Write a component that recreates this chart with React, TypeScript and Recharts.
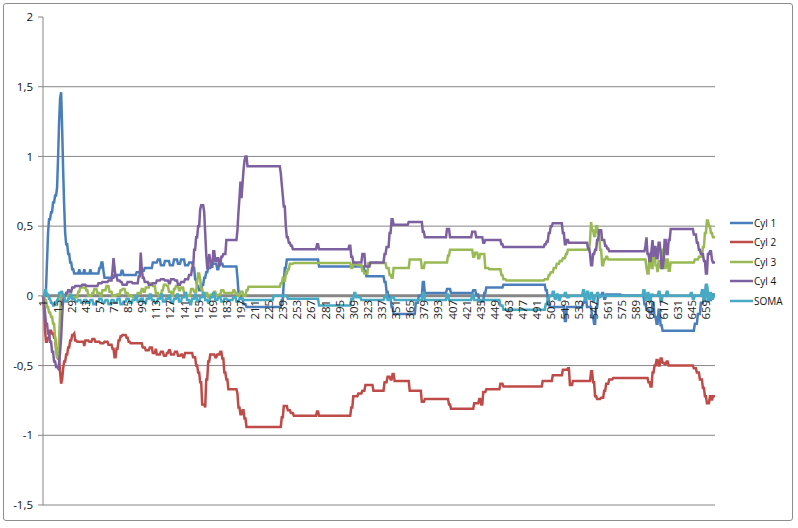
import React from 'react';
import { LineChart, Line, XAxis, YAxis, CartesianGrid, ReferenceLine, Legend } from 'recharts';

// number of categories on the x axis (1..N)
const N = 668;
const categories: number[] = Array.from({ length: N }, (_, i) => i + 1);
const yTicks = [-1.5, -1, -0.5, 0, 0.5, 1, 1.5, 2];
const gridValues = [-1.5, -1, -0.5, 0, 0.5, 1, 1.5];

// step data: [first category index, value] — value holds until the next entry
const cyl1Steps: [number, number][] = [
  [1,0],[4,0.05],[5,0.25],[6,0.45],[7,0.55],[9,0.6],[11,0.67],[13,0.72],[15,0.78],[16,1.0],[17,1.25],[18,1.42],[19,1.46],[20,1.2],[21,0.9],[22,0.65],[23,0.45],[24,0.37],[26,0.3],[28,0.24],[30,0.19],[32,0.16],[37,0.19],[38,0.16],[42,0.19],[43,0.16],[48,0.19],[49,0.16],[57,0.2],[59,0.24],[61,0.18],[62,0.13],[72,0.15],[79,0.18],[81,0.15],[94,0.17],[98,0.18],[102,0.2],[110,0.24],[115,0.26],[118,0.22],[122,0.25],[127,0.22],[131,0.26],[135,0.23],[138,0.26],[142,0.22],[146,0.24],[150,0.2],[152,0.12],[154,0.07],[156,0.04],[159,0.08],[161,0.13],[163,0.17],[165,0.2],[168,0.23],[174,0.19],[176,0.23],[180,0.21],[194,0.13],[195,0.03],[197,-0.02],[200,-0.06],[203,-0.08],[238,-0.03],[240,0.1],[241,0.2],[243,0.26],[275,0.21],[320,0.18],[322,0.14],[340,0.1],[342,0.03],[344,-0.01],[347,-0.08],[349,-0.13],[371,-0.05],[374,0],[378,0.1],[380,0.02],[402,0.05],[406,0.02],[428,0.04],[431,0.01],[434,-0.04],[439,0.02],[441,0.06],[458,0.08],[500,0.04],[502,-0.02],[504,-0.08],[519,-0.18],[521,-0.08],[537,-0.05],[539,-0.02],[541,-0.08],[546,-0.15],[548,-0.2],[550,-0.08],[552,0],[556,0.02],[558,-0.02],[560,0.01],[575,0],[598,-0.06],[600,-0.1],[603,-0.12],[606,-0.05],[608,-0.15],[610,-0.2],[612,-0.1],[614,-0.21],[616,-0.25],[648,-0.2],[651,-0.13],[654,-0.05],[657,0],[659,0.07],[661,0.01],[663,-0.03],[665,0.01],
];

const cyl2Steps: [number, number][] = [
  [1,0],[2,-0.1],[3,-0.25],[4,-0.33],[6,-0.3],[8,-0.25],[10,-0.27],[12,-0.3],[14,-0.38],[16,-0.45],[18,-0.55],[19,-0.63],[20,-0.6],[21,-0.52],[22,-0.47],[24,-0.42],[26,-0.37],[28,-0.32],[30,-0.28],[32,-0.27],[33,-0.32],[35,-0.33],[42,-0.36],[43,-0.32],[47,-0.33],[50,-0.31],[53,-0.33],[58,-0.34],[62,-0.33],[66,-0.35],[70,-0.38],[72,-0.44],[74,-0.38],[76,-0.32],[78,-0.29],[80,-0.28],[84,-0.3],[86,-0.33],[88,-0.34],[100,-0.37],[103,-0.39],[107,-0.37],[110,-0.41],[113,-0.38],[114,-0.42],[118,-0.4],[121,-0.43],[124,-0.41],[126,-0.39],[128,-0.42],[132,-0.4],[135,-0.43],[138,-0.42],[140,-0.44],[142,-0.41],[150,-0.44],[153,-0.5],[155,-0.55],[157,-0.62],[159,-0.78],[162,-0.8],[163,-0.6],[165,-0.47],[167,-0.42],[172,-0.44],[174,-0.42],[177,-0.4],[179,-0.45],[181,-0.55],[183,-0.6],[185,-0.67],[194,-0.7],[195,-0.8],[197,-0.85],[199,-0.82],[201,-0.88],[203,-0.94],[238,-0.87],[240,-0.79],[244,-0.82],[247,-0.84],[250,-0.86],[273,-0.83],[275,-0.86],[307,-0.8],[309,-0.72],[314,-0.7],[318,-0.68],[321,-0.64],[329,-0.68],[340,-0.62],[343,-0.58],[346,-0.6],[348,-0.56],[350,-0.61],[365,-0.68],[377,-0.76],[380,-0.74],[404,-0.78],[406,-0.81],[429,-0.77],[434,-0.74],[436,-0.78],[438,-0.69],[441,-0.67],[455,-0.63],[458,-0.65],[497,-0.61],[507,-0.57],[517,-0.53],[522,-0.52],[524,-0.64],[527,-0.61],[545,-0.54],[547,-0.62],[549,-0.72],[551,-0.74],[555,-0.73],[558,-0.68],[560,-0.63],[563,-0.6],[567,-0.59],[602,-0.62],[604,-0.65],[606,-0.55],[608,-0.5],[610,-0.46],[612,-0.5],[614,-0.45],[616,-0.48],[618,-0.49],[620,-0.47],[622,-0.5],[647,-0.52],[650,-0.55],[653,-0.6],[656,-0.66],[658,-0.72],[660,-0.77],[663,-0.72],[665,-0.75],[666,-0.72],
];

const cyl3Steps: [number, number][] = [
  [1,0],[3,-0.03],[5,-0.08],[7,-0.12],[9,-0.15],[11,-0.2],[13,-0.3],[14,-0.4],[15,-0.45],[16,-0.42],[17,-0.3],[18,-0.12],[19,0],[24,0.02],[26,0],[30,-0.01],[36,0.03],[38,0.06],[44,0.04],[46,0],[50,0.02],[52,0.05],[55,0.02],[58,0],[60,0.04],[64,0.07],[67,0.03],[70,0],[74,0.01],[78,0.04],[80,0.05],[83,0.02],[86,0],[90,-0.01],[95,0.02],[99,0.05],[101,0.03],[103,0.06],[107,0.09],[110,0.07],[113,0.02],[116,0],[119,0.04],[121,0.08],[124,0.07],[126,0.03],[129,0],[131,0.05],[133,0.07],[136,0.04],[138,0.06],[141,0.02],[144,0],[148,0.05],[151,0.03],[154,0.1],[155,0.16],[157,0.12],[158,0.05],[160,0],[163,0.02],[165,-0.01],[168,0.01],[171,0.03],[173,0],[176,0.01],[178,0.04],[181,0.02],[190,0.04],[192,0.02],[194,0],[197,0.03],[200,0],[203,0.04],[205,0.065],[237,0.09],[239,0.13],[241,0.1],[242,0.16],[244,0.19],[246,0.23],[250,0.235],[307,0.2],[309,0.23],[313,0.22],[318,0.18],[320,0.16],[324,0.235],[342,0.2],[345,0.15],[347,0.13],[349,0.2],[365,0.26],[377,0.2],[380,0.24],[403,0.29],[405,0.33],[428,0.28],[430,0.31],[433,0.27],[435,0.3],[440,0.2],[444,0.19],[456,0.15],[458,0.12],[461,0.11],[499,0.12],[503,0.15],[505,0.17],[508,0.2],[511,0.23],[514,0.25],[517,0.27],[520,0.3],[522,0.33],[544,0.4],[545,0.53],[546,0.47],[548,0.43],[550,0.5],[552,0.45],[554,0.33],[556,0.22],[558,0.26],[560,0.28],[562,0.26],[600,0.2],[601,0.16],[603,0.3],[605,0.2],[607,0.33],[609,0.22],[611,0.17],[612,0.25],[614,0.2],[616,0.33],[618,0.2],[620,0.26],[622,0.18],[624,0.24],[648,0.26],[652,0.28],[656,0.35],[658,0.45],[660,0.54],[662,0.5],[664,0.45],[666,0.42],
];

const cyl4Steps: [number, number][] = [
  [1,0],[2,-0.05],[3,-0.12],[4,-0.2],[6,-0.27],[8,-0.33],[10,-0.4],[12,-0.47],[14,-0.51],[16,-0.52],[17,-0.48],[18,-0.4],[19,-0.3],[20,-0.15],[21,-0.03],[22,0],[24,0.02],[26,0.04],[28,0.03],[30,0.06],[33,0.07],[40,0.08],[44,0.07],[56,0.09],[60,0.1],[66,0.11],[70,0.18],[71,0.27],[72,0.2],[73,0.14],[75,0.11],[78,0.1],[80,0.08],[85,0.1],[90,0.09],[96,0.14],[98,0.31],[99,0.2],[100,0.13],[102,0.1],[106,0.08],[110,0.09],[114,0.11],[118,0.12],[122,0.11],[126,0.09],[128,0.12],[132,0.11],[135,0.08],[138,0.1],[142,0.12],[146,0.15],[149,0.2],[151,0.33],[153,0.42],[155,0.5],[157,0.62],[158,0.65],[161,0.6],[162,0.45],[163,0.3],[164,0.2],[166,0.3],[167,0.25],[169,0.2],[170,0.32],[172,0.25],[174,0.27],[176,0.22],[178,0.28],[180,0.3],[183,0.4],[194,0.47],[195,0.6],[196,0.7],[197,0.82],[198,0.7],[199,0.8],[200,0.9],[201,0.97],[202,1.0],[204,0.93],[237,0.88],[238,0.8],[239,0.72],[240,0.64],[242,0.5],[243,0.42],[245,0.38],[247,0.36],[249,0.335],[273,0.37],[275,0.335],[305,0.36],[307,0.28],[309,0.24],[318,0.3],[321,0.21],[326,0.24],[340,0.3],[342,0.35],[345,0.45],[347,0.55],[349,0.51],[364,0.53],[378,0.46],[380,0.42],[402,0.48],[405,0.42],[427,0.46],[431,0.42],[438,0.38],[440,0.4],[456,0.37],[458,0.35],[499,0.37],[501,0.39],[503,0.45],[505,0.5],[507,0.52],[517,0.45],[519,0.37],[521,0.4],[523,0.38],[542,0.34],[544,0.3],[545,0.22],[547,0.3],[549,0.33],[551,0.4],[553,0.47],[556,0.4],[559,0.36],[561,0.34],[563,0.32],[599,0.36],[600,0.42],[601,0.3],[603,0.25],[605,0.33],[606,0.4],[607,0.28],[608,0.35],[610,0.27],[612,0.38],[614,0.32],[615,0.2],[617,0.26],[618,0.4],[620,0.3],[622,0.4],[624,0.48],[647,0.44],[650,0.38],[652,0.33],[654,0.3],[657,0.25],[659,0.16],[661,0.3],[663,0.32],[665,0.26],[666,0.24],
];

const somaSteps: [number, number][] = [
  [1,0],[3,0.04],[5,0.01],[7,-0.02],[9,-0.05],[11,-0.07],[13,-0.05],[15,-0.03],[17,0.02],[19,0.03],[21,0],[23,-0.04],[26,-0.02],[28,0.01],[30,-0.02],[33,-0.04],[36,-0.03],[39,-0.05],[42,-0.03],[45,-0.05],[48,-0.03],[51,-0.06],[54,-0.04],[57,-0.02],[60,-0.05],[63,-0.03],[66,-0.06],[69,-0.03],[72,-0.05],[75,-0.02],[78,-0.06],[81,-0.04],[84,-0.02],[87,-0.05],[90,-0.03],[93,0],[95,-0.04],[98,-0.02],[101,-0.05],[104,-0.02],[107,0.01],[109,-0.03],[112,-0.05],[115,-0.02],[118,0.01],[120,-0.04],[123,-0.02],[126,0],[128,-0.05],[131,-0.02],[134,0.01],[136,-0.04],[139,-0.01],[142,0.02],[144,-0.03],[147,-0.06],[149,-0.02],[152,0.01],[154,-0.04],[157,-0.01],[160,0.02],[162,-0.03],[165,-0.05],[167,-0.01],[170,0.02],[172,-0.03],[175,-0.01],[178,-0.04],[181,-0.02],[184,-0.03],[190,-0.01],[193,-0.04],[196,-0.02],[200,-0.03],[230,0],[244,-0.02],[275,-0.07],[307,-0.02],[310,0.02],[312,-0.01],[317,-0.03],[340,-0.01],[342,0.02],[343,-0.03],[347,-0.01],[350,-0.03],[378,0.02],[380,-0.03],[402,0.01],[404,-0.03],[427,0.01],[429,-0.03],[455,-0.07],[458,-0.1],[500,-0.06],[502,-0.02],[504,0],[507,0.03],[509,-0.02],[511,0.01],[513,-0.03],[515,0],[519,0.02],[521,-0.01],[524,0],[537,0.04],[539,-0.03],[541,0.03],[543,-0.02],[545,0.02],[547,-0.04],[549,0],[551,0.02],[553,-0.01],[555,0],[597,0.04],[599,-0.03],[601,0.02],[603,-0.04],[605,0.01],[607,0],[612,0.03],[614,-0.04],[616,0],[620,0.03],[622,0],[644,0.02],[646,-0.02],[648,0],[655,0.04],[657,-0.03],[659,0.08],[661,-0.04],[663,0.02],[665,-0.02],[667,0],
];

const seriesNames = ['Cyl 1', 'Cyl 2', 'Cyl 3', 'Cyl 4', 'SOMA'];
const seriesKeys = ['cyl1', 'cyl2', 'cyl3', 'cyl4', 'soma'];
const seriesColors = ['#4A7EBB', '#BE4B48', '#98B954', '#7D60A0', '#46AAC5'];

function expand(steps: [number, number][]): number[] {
  const out: number[] = [];
  let k = 0;
  for (const c of categories) {
    while (k + 1 < steps.length && steps[k + 1][0] <= c) k++;
    out.push(steps[k][1]);
  }
  return out;
}

const cyl1 = expand(cyl1Steps);
const cyl2 = expand(cyl2Steps);
const cyl3 = expand(cyl3Steps);
const cyl4 = expand(cyl4Steps);
const soma = expand(somaSteps);

const data = categories.map((c, i) => ({
  idx: c,
  cyl1: cyl1[i],
  cyl2: cyl2[i],
  cyl3: cyl3[i],
  cyl4: cyl4[i],
  soma: soma[i],
}));

const FONT = '"Open Sans", "Liberation Sans", Arial, sans-serif';
const W = 798;
const H = 528;
const M = { top: 17, right: 0, left: 0, bottom: 22 };
const X_AXIS_H = 1;
const Y_AXIS_W = 43;
const Y_MIN = -1.5;
const Y_MAX = 2;
const plotH = H - M.top - M.bottom - X_AXIS_H;
const zeroY = M.top + (plotH * (Y_MAX - 0)) / (Y_MAX - Y_MIN);

const XTick = (props: any) => {
  const { x, payload } = props;
  const y = zeroY + 4;
  return (
    <text
      x={x}
      y={y}
      transform={`rotate(-90, ${x}, ${y})`}
      textAnchor="end"
      dominantBaseline="central"
      fontFamily={FONT}
      fontSize={11.5}
      fill="#222"
    >
      {payload.value}
    </text>
  );
};

const LegendContent = () => (
  <div style={{ fontFamily: FONT, fontSize: 10, color: '#111' }}>
    {seriesNames.map((n, i) => (
      <div key={n} style={{ display: 'flex', alignItems: 'center', height: 19.5 }}>
        <svg width={23} height={4} style={{ marginRight: 1, display: 'block' }}>
          <line x1={0} y1={2} x2={23} y2={2} stroke={seriesColors[i]} strokeWidth={2.5} />
        </svg>
        <span style={{ lineHeight: '12px' }}>{n}</span>
      </div>
    ))}
  </div>
);

export default function App() {
  return (
    <div style={{ position: 'absolute', left: 0, top: 0, width: W, height: H, background: '#fff' }}>
      <div
        style={{
          position: 'absolute',
          left: 3,
          top: 3,
          width: 788,
          height: 516,
          border: '1px solid #8c8c8c',
          borderRadius: 3,
          pointerEvents: 'none',
        }}
      />
      <LineChart width={W} height={H} data={data} margin={{ top: M.top, right: 83, left: M.left, bottom: M.bottom }}>
        <CartesianGrid vertical={false} horizontalValues={gridValues} stroke="#868686" strokeWidth={1} />
        <XAxis
          dataKey="idx"
          type="category"
          interval={13}
          height={X_AXIS_H}
          axisLine={false}
          tickLine={false}
          tick={<XTick />}
        />
        <YAxis
          width={Y_AXIS_W}
          domain={[Y_MIN, Y_MAX]}
          ticks={yTicks}
          type="number"
          allowDataOverflow
          tickFormatter={(v: number) => String(v).replace('.', ',')}
          axisLine={{ stroke: '#868686' }}
          tickLine={{ stroke: '#868686' }}
          tickSize={5}
          tickMargin={5}
          tick={{ fontFamily: FONT, fontSize: 11.5, fill: '#111' }}
        />
        <ReferenceLine y={0} stroke="#868686" strokeWidth={3} />
        {seriesKeys.map((k, i) => (
          <Line
            key={k}
            type="linear"
            dataKey={k}
            name={seriesNames[i]}
            stroke={seriesColors[i]}
            strokeWidth={2.5}
            dot={false}
            activeDot={false}
            isAnimationActive={false}
          />
        ))}
        <Legend
          layout="vertical"
          align="center"
          verticalAlign="middle"
          wrapperStyle={{ left: 730, top: 213, width: 66 }}
          content={<LegendContent />}
        />
      </LineChart>
    </div>
  );
}
